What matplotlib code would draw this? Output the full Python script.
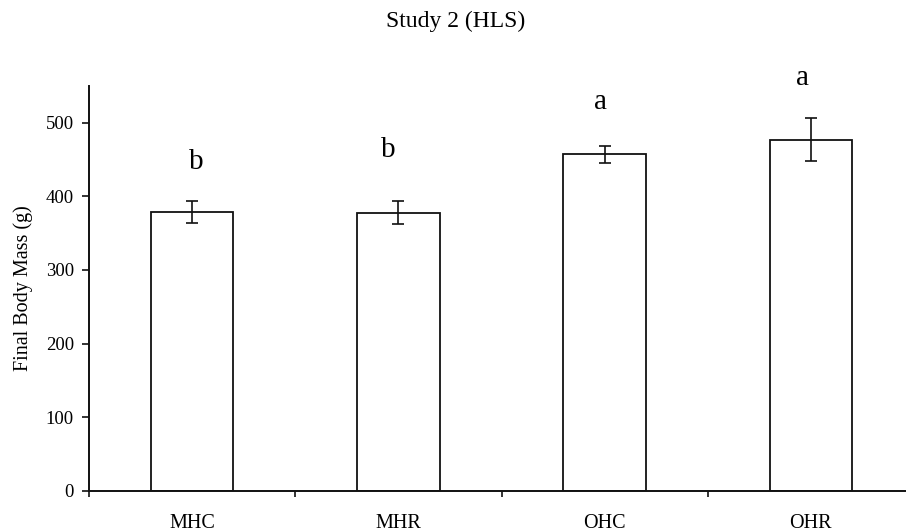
import matplotlib
matplotlib.use("Agg")
import matplotlib.pyplot as plt
import numpy as np

categories = ["MHC", "MHR", "OHC", "OHR"]
means = [379, 378, 457, 477]
errors = [15, 16, 11, 29]
letters = ["b", "b", "a", "a"]
letter_x = [0.02, 0.95, 1.98, 2.96]
letter_y = [437, 453, 519, 552]
yticks = [0, 100, 200, 300, 400, 500]

plt.rcParams['font.family'] = ['Liberation Serif', 'DejaVu Serif']

fig = plt.figure(figsize=(9.06, 5.32), dpi=100)
ax = fig.add_axes([89/906, 41.3/532, 825/906, 404.7/532])

x = np.arange(len(categories))
ax.bar(x, means, width=0.4, color="white", edgecolor="#111111", linewidth=1.3, zorder=2)
ax.errorbar(x, means, yerr=errors, fmt="none", ecolor="#111111", elinewidth=1.2,
            capsize=4.5, capthick=1.2, zorder=3)

for lx, ly, t in zip(letter_x, letter_y, letters):
    ax.text(lx, ly, t, ha="center", va="baseline", fontsize=21, clip_on=False)

ax.set_xlim(-0.5, 3.5)
ax.set_ylim(0, 550)
ax.set_yticks(yticks)
ax.set_yticklabels([str(v) for v in yticks], fontsize=13.5)
ax.set_xticks(x)
ax.set_xticklabels(categories, fontsize=14.5)
ax.set_xticks(np.arange(-0.5, 4.0, 1.0), minor=True)
ax.tick_params(axis="x", which="major", length=0, pad=17)
ax.tick_params(axis="x", which="minor", length=4.2, width=1.2, direction="out", color="#111111")
ax.tick_params(axis="y", which="major", length=4.8, width=1.2, direction="out", pad=6, color="#111111")

for s in ["top", "right"]:
    ax.spines[s].set_visible(False)
for s in ["left", "bottom"]:
    ax.spines[s].set_linewidth(1.4)
    ax.spines[s].set_color("#111111")

fig.text(23/906, 1 - 288/532, "Final Body Mass (g)", rotation=90, ha="center", va="center", fontsize=14.5)
fig.text(456/906, 1 - 21/532, "Study 2 (HLS)", ha="center", va="center", fontsize=17)

fig.savefig("out.png", dpi=100)
